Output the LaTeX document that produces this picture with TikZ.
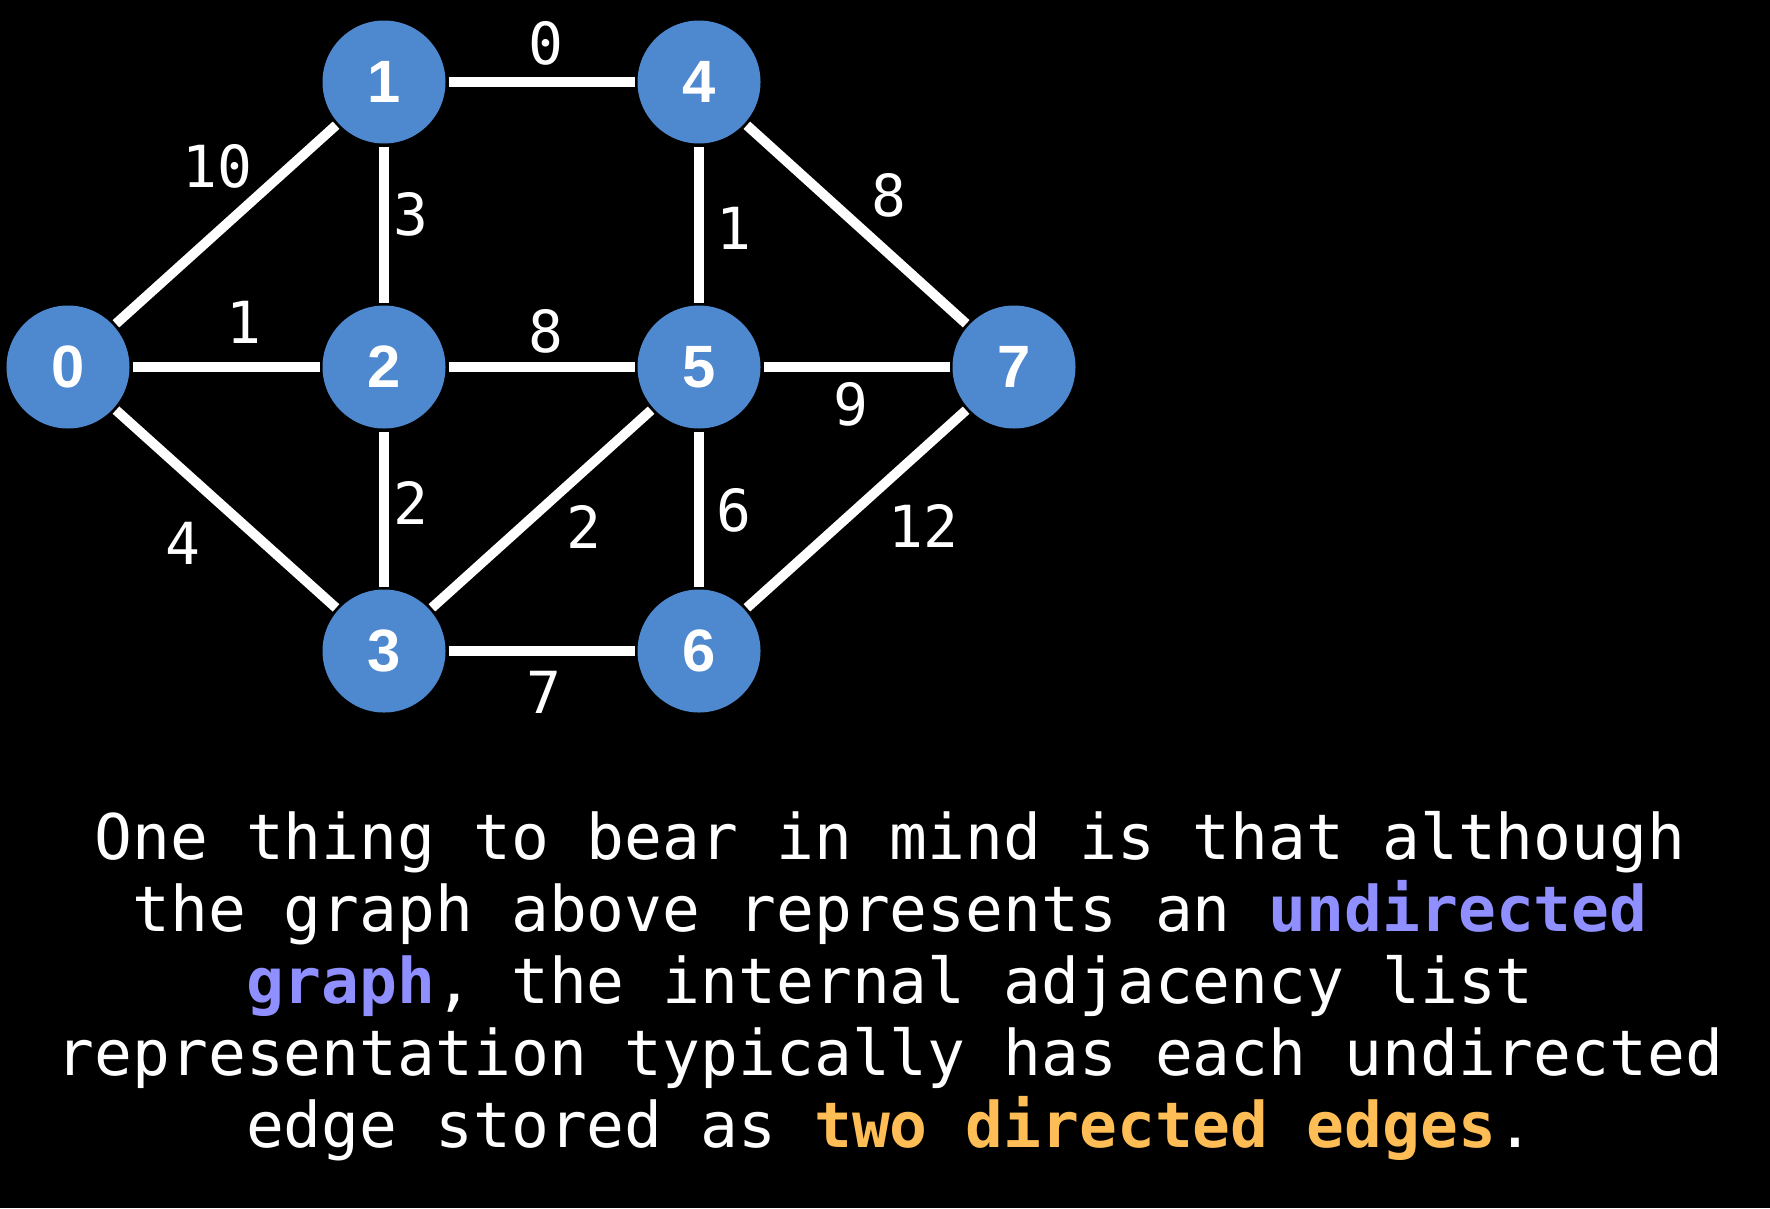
\documentclass[tikz,border=0pt]{standalone}
\usepackage{fontspec}
\setmonofont{DejaVu Sans Mono}
\newfontfamily\vertexfont{Liberation Sans}
\usepackage{tikz}
\usetikzlibrary{positioning}
\definecolor{vertexBlue}{RGB}{78, 136, 206}
\definecolor{undirPurple}{RGB}{143, 143, 255}
\definecolor{twoOrange}{RGB}{255, 190, 85}

\begin{document}
\begin{tikzpicture}[
    vertex/.style={circle, fill=vertexBlue, minimum size=1.23cm, inner sep=0pt, outer sep=0.03cm, text=white, font=\vertexfont\bfseries\fontsize{17}{17}\selectfont},
    link/.style={white, line width=2.8pt},
    weight/.style={text=white, inner sep=0pt, font=\ttfamily\fontsize{16.5}{16.5}\selectfont}]
    % Background
    \fill[black] (0,0) rectangle (17.7,12.08);
    % Vertices
    \node[vertex] (v0) at (0.68, 8.41) {0};
    \node[vertex] (v1) at (3.84, 11.26) {1};
    \node[vertex] (v2) at (3.84, 8.41) {2};
    \node[vertex] (v3) at (3.84, 5.57) {3};
    \node[vertex] (v4) at (6.99, 11.26) {4};
    \node[vertex] (v5) at (6.99, 8.41) {5};
    \node[vertex] (v6) at (6.99, 5.57) {6};
    \node[vertex] (v7) at (10.14, 8.41) {7};
    % Edges
    \draw[link] (v0) -- (v1);
    \draw[link] (v0) -- (v2);
    \draw[link] (v0) -- (v3);
    \draw[link] (v1) -- (v2);
    \draw[link] (v1) -- (v4);
    \draw[link] (v2) -- (v3);
    \draw[link] (v2) -- (v5);
    \draw[link] (v3) -- (v5);
    \draw[link] (v3) -- (v6);
    \draw[link] (v4) -- (v5);
    \draw[link] (v4) -- (v7);
    \draw[link] (v5) -- (v6);
    \draw[link] (v5) -- (v7);
    \draw[link] (v6) -- (v7);
    % Weights
    \node[weight] (w01) at (2.17, 10.42) {10};
    \node[weight] (w02) at (2.44, 8.86) {1};
    \node[weight] (w03) at (1.83, 6.65) {4};
    \node[weight] (w12) at (4.11, 9.94) {3};
    \node[weight] (w14) at (5.46, 11.65) {0};
    \node[weight] (w23) at (4.11, 7.05) {2};
    \node[weight] (w25) at (5.46, 8.77) {8};
    \node[weight] (w35) at (5.84, 6.81) {2};
    \node[weight] (w36) at (5.44, 5.16) {7};
    \node[weight] (w45) at (7.34, 9.80) {1};
    \node[weight] (w47) at (8.89, 10.13) {8};
    \node[weight] (w56) at (7.34, 6.98) {6};
    \node[weight] (w57) at (8.51, 8.04) {9};
    \node[weight] (w67) at (9.23, 6.82) {12};
    % Caption
    \node[text=white, align=center, inner sep=0pt, font=\ttfamily\fontsize{17.9}{20.5}\selectfont] (note) at (8.9, 2.22) {One thing to bear in mind is that although\\
    the graph above represents an \textcolor{undirPurple}{\bfseries undirected}\\
    \textcolor{undirPurple}{\bfseries graph}, the internal adjacency list\\
    representation typically has each undirected\\
    edge stored as \textcolor{twoOrange}{\bfseries two directed edges}.};
\end{tikzpicture}
\end{document}
